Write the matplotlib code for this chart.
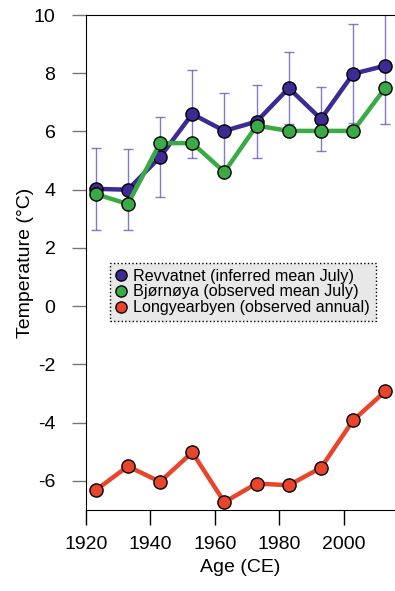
import matplotlib.pyplot as plt
import numpy as np

plt.rcParams['font.family'] = ['Liberation Sans', 'DejaVu Sans']
plt.rcParams['axes.unicode_minus'] = False

# =========================
# DATA
# =========================

YEARS = [1923, 1933, 1943, 1953, 1963, 1973, 1983, 1993, 2003, 2013]

REVVATNET = [4.03, 4.0, 5.12, 6.6, 6.02, 6.34, 7.49, 6.43, 7.98, 8.26]
REVVATNET_ERR = [1.4, 1.4, 1.37, 1.5, 1.3, 1.25, 1.24, 1.1, 1.7, 2.0]
BJORNOYA = [3.85, 3.51, 5.6, 5.6, 4.61, 6.2, 6.02, 6.02, 6.02, 7.5]
LONGYEARBYEN = [-6.32, -5.5, -6.03, -5.02, -6.73, -6.09, -6.15, -5.55, -3.92, -2.92]

LABELS = [
    "Revvatnet (inferred mean July)",
    "Bjørnøya (observed mean July)",
    "Longyearbyen (observed annual)",
]

COLORS = ["#3d2a94", "#3aaa45", "#e8452a"]

# =========================
# PLOT
# =========================

fig = plt.figure(figsize=(3.95, 5.91), dpi=100)
ax = fig.add_axes([86 / 395, 81 / 591, 309 / 395, 495 / 591])

ax.errorbar(YEARS, REVVATNET, yerr=REVVATNET_ERR, fmt="none",
            ecolor="#5a4fb0", alpha=0.75, elinewidth=1, capsize=3.6,
            capthick=1, zorder=1)

series = [REVVATNET, BJORNOYA, LONGYEARBYEN]
for vals, col, lab in zip(series, COLORS, LABELS):
    ax.plot(YEARS, vals, color=col, linewidth=3.2, marker="o",
            markersize=9.5, markerfacecolor=col, markeredgecolor="black",
            markeredgewidth=1, label=lab, zorder=3, clip_on=False)

# =========================
# AXES
# =========================

ax.set_xlim(1920, 2016)
ax.set_ylim(-7, 10)
ax.set_xticks([1920, 1940, 1960, 1980, 2000])
ax.set_yticks(np.arange(-6, 11, 2))

ax.spines["right"].set_visible(False)

ax.tick_params(axis="y", direction="out", length=10, width=1,
               color="#777777", pad=12, labelsize=14)
ax.tick_params(axis="x", direction="out", length=11, width=1,
               pad=8, labelsize=14)

ax.set_xlabel("Age (CE)", fontsize=14, labelpad=4)
ax.set_ylabel("Temperature (°C)", fontsize=14, labelpad=0)

# =========================
# LEGEND
# =========================

leg = ax.legend(loc="upper left", bbox_to_anchor=(0.078, 0.499),
                borderaxespad=0, fontsize=11.6, handlelength=0.6,
                handletextpad=0.5, labelspacing=0.05, borderpad=0.35,
                fancybox=False, framealpha=1, markerscale=0.85)
frame = leg.get_frame()
frame.set_facecolor("#e8e8e8")
frame.set_edgecolor("black")
frame.set_linestyle(":")
frame.set_linewidth(1)
for line in leg.get_lines():
    line.set_linewidth(0)

fig.savefig("out.png", dpi=100)
